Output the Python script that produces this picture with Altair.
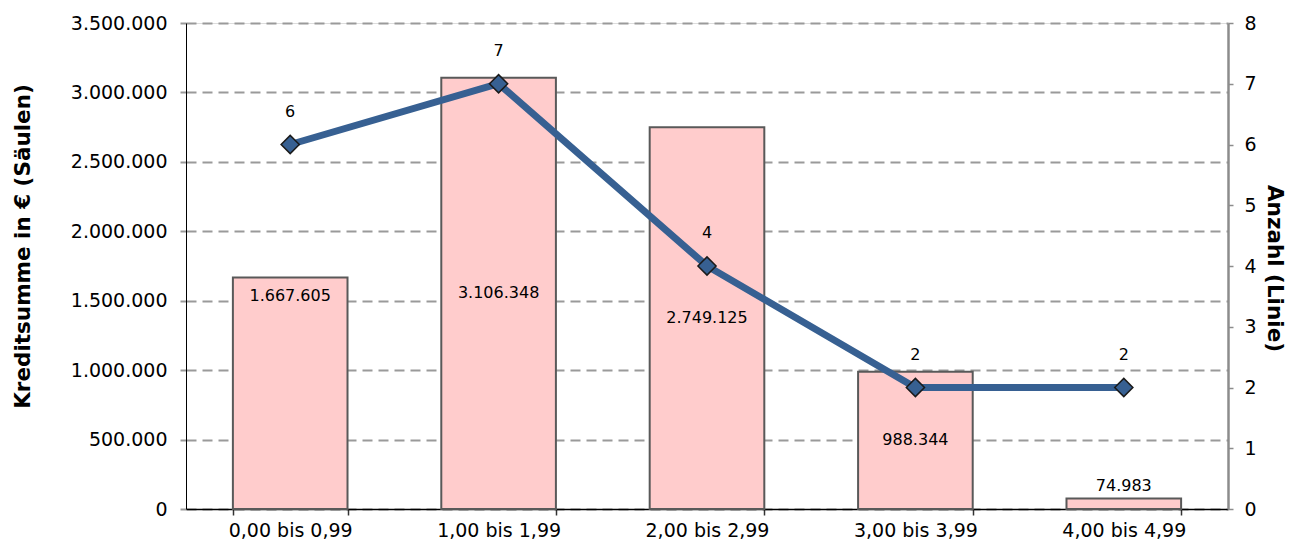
import altair as alt
import pandas as pd

klassen = ["0,00 bis 0,99", "1,00 bis 1,99", "2,00 bis 2,99", "3,00 bis 3,99", "4,00 bis 4,99"]
kreditsumme = [1667605, 3106348, 2749125, 988344, 74983]
anzahl = [6, 7, 4, 2, 2]

df = pd.DataFrame({"Klasse": klassen, "Kreditsumme": kreditsumme, "Anzahl": anzahl})

FONT = "DejaVu Sans"
de_fmt = "replace(format({v}, ',d'), regexp(',', 'g'), '.')"

x_enc = alt.X(
    "Klasse:N",
    sort=klassen,
    scale=alt.Scale(paddingInner=0.45, paddingOuter=0.225),
    axis=alt.Axis(
        title=None, labelAngle=0, labelFontSize=19, labelFont=FONT, labelColor="black",
        labelPadding=6, domainColor="black", domainWidth=1.5, tickColor="#333333",
        tickWidth=1.5, tickSize=6, tickBand="extent", grid=False,
    ),
)

ybar_scale = alt.Scale(domain=[0, 3500000])
yline_scale = alt.Scale(domain=[0, 8])

left_axis = alt.Axis(
    title="Kreditsumme in € (Säulen)", titleFont=FONT, titleFontSize=21.5,
    titleFontWeight="bold", titleColor="black", titleAngle=-90,
    titleAlign="center", titleBaseline="middle", titleX=-163, titleY=223,
    values=[0, 500000, 1000000, 1500000, 2000000, 2500000, 3000000, 3500000],
    labelExpr=de_fmt.format(v="datum.value"), labelFontSize=19, labelFont=FONT,
    labelColor="black", labelPadding=13, domainColor="black", domainWidth=1,
    tickColor="#999999", tickWidth=2, tickSize=6,
    grid=True, gridColor="#9A9A9A", gridWidth=2, gridDash=[10, 6],
)

right_axis = alt.Axis(
    orient="right", title="Anzahl (Linie)", titleFont=FONT, titleFontSize=21.5,
    titleFontWeight="bold", titleColor="black", titleAngle=90,
    titleAlign="center", titleBaseline="middle", titleX=45, titleY=245,
    values=[0, 1, 2, 3, 4, 5, 6, 7, 8], format="d", labelFontSize=19,
    labelFont=FONT, labelColor="black", labelPadding=11,
    domainColor="#8C8C8C", domainWidth=2.5, tickColor="#8C8C8C",
    tickWidth=1.5, tickSize=5, grid=False,
)

base = alt.Chart(df).transform_calculate(
    lab=de_fmt.format(v="datum.Kreditsumme"), mid="datum.Kreditsumme / 2"
)

bars = base.mark_bar(fill="#FFCCCC", stroke="#595959", strokeWidth=2).encode(
    x=x_enc,
    y=alt.Y("Kreditsumme:Q", scale=ybar_scale, axis=left_axis),
)

txt_center = base.transform_filter(
    alt.FieldOneOfPredicate(field="Klasse", oneOf=klassen[1:4])
).mark_text(font=FONT, fontSize=16, color="black", baseline="middle").encode(
    x=alt.X("Klasse:N", sort=klassen), y=alt.Y("mid:Q", scale=ybar_scale, axis=left_axis), text="lab:N"
)

txt_first = base.transform_filter(
    alt.FieldOneOfPredicate(field="Klasse", oneOf=klassen[0:1])
).mark_text(font=FONT, fontSize=16, color="black", baseline="middle", dy=19).encode(
    x=alt.X("Klasse:N", sort=klassen), y=alt.Y("Kreditsumme:Q", scale=ybar_scale, axis=left_axis), text="lab:N"
)

txt_last = base.transform_filter(
    alt.FieldOneOfPredicate(field="Klasse", oneOf=klassen[4:5])
).mark_text(font=FONT, fontSize=16, color="black", baseline="middle", dy=-13).encode(
    x=alt.X("Klasse:N", sort=klassen), y=alt.Y("Kreditsumme:Q", scale=ybar_scale, axis=left_axis), text="lab:N"
)

bar_layer = alt.layer(bars, txt_center, txt_first, txt_last)

line = alt.Chart(df).mark_line(color="#376092", strokeWidth=7).encode(
    x=alt.X("Klasse:N", sort=klassen),
    y=alt.Y("Anzahl:Q", scale=yline_scale, axis=right_axis),
)

pts = alt.Chart(df).mark_point(
    shape="diamond", size=330, filled=True, fill="#376092", stroke="#1A1A1A",
    strokeWidth=1.5, opacity=1
).encode(x=alt.X("Klasse:N", sort=klassen), y=alt.Y("Anzahl:Q", scale=yline_scale, axis=right_axis))

pt_txt = alt.Chart(df).mark_text(
    font=FONT, fontSize=16, color="black", baseline="middle", dy=-33
).encode(
    x=alt.X("Klasse:N", sort=klassen),
    y=alt.Y("Anzahl:Q", scale=yline_scale, axis=right_axis),
    text=alt.Text("Anzahl:Q", format="d"),
)

line_layer = alt.layer(line, pts, pt_txt)

chart = alt.layer(bar_layer, line_layer).resolve_scale(y="independent").properties(
    width=1042,
    height=486,
    padding={"left": 178, "top": 15, "right": 62, "bottom": 34},
    autosize=alt.AutoSizeParams(type="none"),
).configure_view(stroke="transparent").configure(background="white")

chart.save("out.html", embed_options={"renderer": "svg", "actions": False})
